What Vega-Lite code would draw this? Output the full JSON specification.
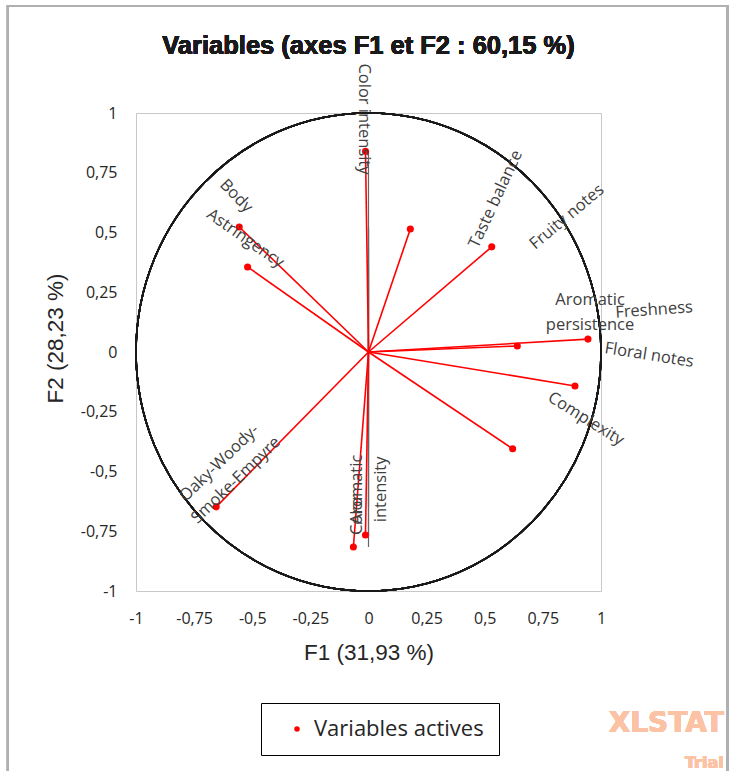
{
  "$schema": "https://vega.github.io/schema/vega-lite/v6.json",
  "autosize": {"type": "none"},
  "width": 465,
  "height": 478,
  "padding": {"left": 136, "top": 113, "right": 128, "bottom": 180},
  "background": "white",
  "config": {
    "view": {"stroke": "#c8c8c8", "strokeWidth": 1},
    "text": {"font": "Open Sans", "fontSize": 16.5, "color": "#404040"}
  },
  "datasets": {
    "variables": [
      {"variable": "Color intensity", "F1": -0.013, "F2": 0.84, "group": "Variables actives"},
      {"variable": "Fruity notes", "F1": 0.18, "F2": 0.515, "group": "Variables actives"},
      {"variable": "Taste balance", "F1": 0.53, "F2": 0.44, "group": "Variables actives"},
      {"variable": "Body", "F1": -0.556, "F2": 0.523, "group": "Variables actives"},
      {"variable": "Astringency", "F1": -0.52, "F2": 0.356, "group": "Variables actives"},
      {"variable": "Aromatic persistence", "F1": 0.64, "F2": 0.025, "group": "Variables actives"},
      {"variable": "Freshness", "F1": 0.944, "F2": 0.054, "group": "Variables actives"},
      {"variable": "Floral notes", "F1": 0.888, "F2": -0.142, "group": "Variables actives"},
      {"variable": "Complexity", "F1": 0.62, "F2": -0.405, "group": "Variables actives"},
      {"variable": "Oaky-Woody-Smoke-Empyre", "F1": -0.655, "F2": -0.648, "group": "Variables actives"},
      {"variable": "Color", "F1": -0.065, "F2": -0.816, "group": "Variables actives"},
      {"variable": "Aromatic intensity", "F1": -0.013, "F2": -0.766, "group": "Variables actives"}
    ],
    "labels": [
      {"label": "Color intensity", "x": -0.02, "y": 0.975},
      {"label": "Body", "x": -0.569, "y": 0.653},
      {"label": "Astringency", "x": -0.53, "y": 0.475},
      {"label": "Taste balance", "x": 0.547, "y": 0.64},
      {"label": "Fruity notes", "x": 0.853, "y": 0.565},
      {"label": "Aromatic\npersistence", "x": 0.953, "y": 0.218},
      {"label": "Freshness", "x": 1.228, "y": 0.176},
      {"label": "Floral notes", "x": 1.207, "y": -0.013},
      {"label": "Complexity", "x": 0.935, "y": -0.28},
      {"label": "Oaky-Woody-\nSmoke-Empyre", "x": -0.642, "y": -0.464},
      {"label": "Aromatic\nintensity", "x": -0.05, "y": -0.575},
      {"label": "Color", "x": -0.05, "y": -0.68}
    ],
    "ticks": [
      {"v": -0.75}, {"v": -0.5}, {"v": -0.25}, {"v": 0.25}, {"v": 0.5}, {"v": 0.75}
    ]
  },
  "data": {"name": "variables"},
  "encoding": {
    "x": {
      "field": "F1", "type": "quantitative",
      "scale": {"domain": [-1, 1], "nice": false, "zero": false},
      "axis": {
        "values": [-1, -0.75, -0.5, -0.25, 0, 0.25, 0.5, 0.75, 1],
        "domain": false, "ticks": false, "grid": false,
        "labelFlush": false, "labelOverlap": false,
        "labelFont": "Open Sans", "labelFontSize": 16, "labelColor": "#262626",
        "labelPadding": 19,
        "labelExpr": "replace(toString(datum.value), '.', ',')",
        "title": "F1 (31,93 %)",
        "titleFont": "Liberation Sans", "titleFontSize": 22.5, "titleFontWeight": "normal",
        "titleColor": "#262626", "titlePadding": 15
      }
    },
    "y": {
      "field": "F2", "type": "quantitative",
      "scale": {"domain": [-1, 1], "nice": false, "zero": false},
      "axis": {
        "values": [-1, -0.75, -0.5, -0.25, 0, 0.25, 0.5, 0.75, 1],
        "domain": false, "ticks": false, "grid": false,
        "labelFlush": false, "labelOverlap": false,
        "labelFont": "Open Sans", "labelFontSize": 16, "labelColor": "#262626",
        "labelPadding": 19,
        "labelExpr": "replace(toString(datum.value), '.', ',')",
        "title": "F2 (28,23 %)",
        "titleFont": "Liberation Sans", "titleFontSize": 22.5, "titleFontWeight": "normal",
        "titleColor": "#262626", "titlePadding": 13, "titleY": 225
      }
    }
  },
  "layer": [
    {
      "mark": {"type": "rect", "fill": null, "stroke": "#b0b0b0", "strokeWidth": 2, "clip": false},
      "encoding": {
        "x": {"datum": -1.551, "type": "quantitative"},
        "x2": {"datum": 1.545},
        "y": {"datum": 1.448, "type": "quantitative"},
        "y2": {"datum": -1.9}
      }
    },
    {
      "mark": {"type": "text", "text": "Variables (axes F1 et F2 : 60,15 %)", "font": "Liberation Sans", "fontSize": 25.5, "fontWeight": "bold", "color": "#1a1a1a", "align": "center", "baseline": "alphabetic"},
      "encoding": {
        "x": {"datum": 0, "type": "quantitative"},
        "y": {"datum": 1.247, "type": "quantitative"}
      }
    },
    {
      "mark": {"type": "rule", "color": "#8c8c8c", "strokeWidth": 1.2},
      "encoding": {"y": {"datum": 0, "type": "quantitative"}}
    },
    {
      "mark": {"type": "rule", "color": "#666666", "strokeWidth": 1.2},
      "encoding": {"x": {"datum": 0, "type": "quantitative"}}
    },
    {
      "data": {"name": "ticks"},
      "mark": {"type": "rule", "color": "#666666", "strokeWidth": 1},
      "encoding": {
        "x": {"datum": -0.015, "type": "quantitative"},
        "x2": {"datum": 0.015},
        "y": {"field": "v", "type": "quantitative"}
      }
    },
    {
      "mark": {
        "type": "point",
        "shape": "M -1 0 A 1 1.028 0 1 1 1 0 A 1 1.028 0 1 1 -1 0 Z",
        "size": 216225,
        "filled": false,
        "stroke": "#1a1a1a",
        "strokeWidth": 1.6,
        "opacity": 1
      },
      "encoding": {
        "x": {"datum": 0, "type": "quantitative"},
        "y": {"datum": 0, "type": "quantitative"}
      }
    },
    {
      "mark": {"type": "rule", "color": "#ff0000", "strokeWidth": 1.6},
      "encoding": {
        "x2": {"datum": 0},
        "y2": {"datum": 0}
      }
    },
    {
      "mark": {"type": "point", "filled": true, "size": 50, "opacity": 1},
      "encoding": {
        "color": {
          "field": "group", "type": "nominal",
          "scale": {"range": ["#ff0000"]},
          "legend": {
            "title": null,
            "orient": "none",
            "legendX": 125,
            "legendY": 590,
            "strokeColor": "#000000",
            "padding": 15,
            "symbolType": "circle",
            "symbolSize": 30,
            "symbolOffset": 10,
            "labelFont": "Open Sans",
            "labelFontSize": 22,
            "labelLimit": 400,
            "labelColor": "#262626",
            "labelOffset": 6
          }
        }
      }
    },
    {
      "data": {"name": "labels"},
      "transform": [{"filter": "datum.label === 'Color intensity'"}],
      "mark": {"type": "text", "angle": 90},
      "encoding": {"x": {"field": "x", "type": "quantitative"}, "y": {"field": "y", "type": "quantitative"}, "text": {"field": "label"}}
    },
    {
      "data": {"name": "labels"},
      "transform": [{"filter": "datum.label === 'Body'"}],
      "mark": {"type": "text", "angle": 46},
      "encoding": {"x": {"field": "x", "type": "quantitative"}, "y": {"field": "y", "type": "quantitative"}, "text": {"field": "label"}}
    },
    {
      "data": {"name": "labels"},
      "transform": [{"filter": "datum.label === 'Astringency'"}],
      "mark": {"type": "text", "angle": 35},
      "encoding": {"x": {"field": "x", "type": "quantitative"}, "y": {"field": "y", "type": "quantitative"}, "text": {"field": "label"}}
    },
    {
      "data": {"name": "labels"},
      "transform": [{"filter": "datum.label === 'Taste balance'"}],
      "mark": {"type": "text", "angle": -65},
      "encoding": {"x": {"field": "x", "type": "quantitative"}, "y": {"field": "y", "type": "quantitative"}, "text": {"field": "label"}}
    },
    {
      "data": {"name": "labels"},
      "transform": [{"filter": "datum.label === 'Fruity notes'"}],
      "mark": {"type": "text", "angle": -40},
      "encoding": {"x": {"field": "x", "type": "quantitative"}, "y": {"field": "y", "type": "quantitative"}, "text": {"field": "label"}}
    },
    {
      "data": {"name": "labels"},
      "transform": [{"filter": "datum.label === 'Aromatic\\npersistence'"}],
      "mark": {"type": "text", "angle": 0, "lineBreak": "\n", "lineHeight": 25},
      "encoding": {"x": {"field": "x", "type": "quantitative"}, "y": {"field": "y", "type": "quantitative"}, "text": {"field": "label"}}
    },
    {
      "data": {"name": "labels"},
      "transform": [{"filter": "datum.label === 'Freshness'"}],
      "mark": {"type": "text", "angle": -4},
      "encoding": {"x": {"field": "x", "type": "quantitative"}, "y": {"field": "y", "type": "quantitative"}, "text": {"field": "label"}}
    },
    {
      "data": {"name": "labels"},
      "transform": [{"filter": "datum.label === 'Floral notes'"}],
      "mark": {"type": "text", "angle": 9},
      "encoding": {"x": {"field": "x", "type": "quantitative"}, "y": {"field": "y", "type": "quantitative"}, "text": {"field": "label"}}
    },
    {
      "data": {"name": "labels"},
      "transform": [{"filter": "datum.label === 'Complexity'"}],
      "mark": {"type": "text", "angle": 32},
      "encoding": {"x": {"field": "x", "type": "quantitative"}, "y": {"field": "y", "type": "quantitative"}, "text": {"field": "label"}}
    },
    {
      "data": {"name": "labels"},
      "transform": [{"filter": "datum.label === 'Oaky-Woody-\\nSmoke-Empyre'"}],
      "mark": {"type": "text", "angle": -44, "lineBreak": "\n", "lineHeight": 24},
      "encoding": {"x": {"field": "x", "type": "quantitative"}, "y": {"field": "y", "type": "quantitative"}, "text": {"field": "label"}}
    },
    {
      "data": {"name": "labels"},
      "transform": [{"filter": "datum.label === 'Aromatic\\nintensity' || datum.label === 'Color'"}],
      "mark": {"type": "text", "angle": -90, "lineBreak": "\n", "lineHeight": 24},
      "encoding": {"x": {"field": "x", "type": "quantitative"}, "y": {"field": "y", "type": "quantitative"}, "text": {"field": "label"}}
    },
    {
      "mark": {"type": "text", "text": "XLSTAT", "font": "DejaVu Sans", "fontWeight": "bold", "fontSize": 28, "color": "#fbc3a4", "align": "right", "baseline": "alphabetic"},
      "encoding": {
        "x": {"datum": 1.528, "type": "quantitative"},
        "y": {"datum": -1.59, "type": "quantitative"}
      }
    },
    {
      "mark": {"type": "text", "text": "Trial", "font": "DejaVu Sans", "fontWeight": "bold", "fontSize": 16, "color": "#fbc3a4", "align": "right", "baseline": "alphabetic"},
      "encoding": {
        "x": {"datum": 1.528, "type": "quantitative"},
        "y": {"datum": -1.74, "type": "quantitative"}
      }
    }
  ]
}
